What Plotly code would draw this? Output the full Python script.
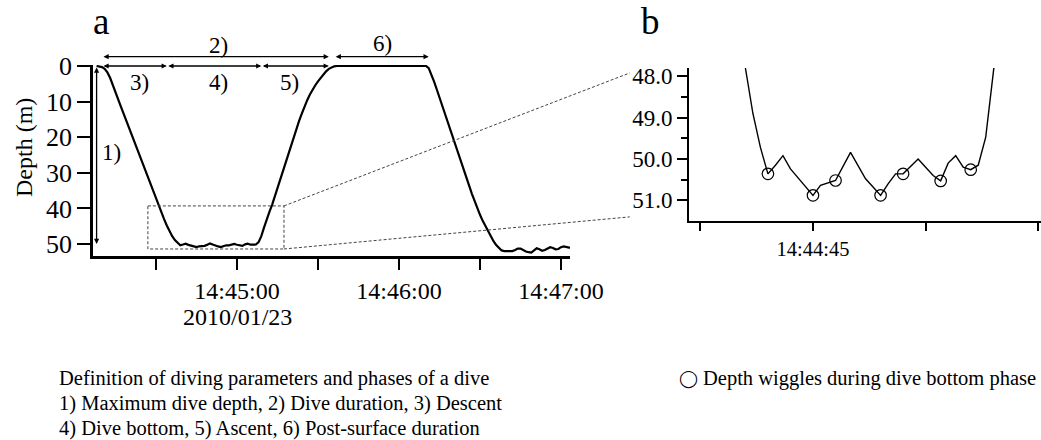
import pandas as pd
import plotly.graph_objects as go

# ---------------- data ----------------
BASE = "2010-01-23 14:45:00"

# dive profile: seconds relative to 14:45:00 and depth (m)
dive_sec = [-52, -51, -50, -49, -48, -47, -46, -45, -44, -43, -42, -41, -40, -39, -38,
            -37, -36, -35, -34, -33, -32, -31, -30, -29, -28, -27, -26, -25, -24, -23,
            -22, -21, -20, -19, -18, -17, -16, -15, -14, -13, -12, -11, -10, -9, -8,
            -7, -6, -5, -4, -3, -2, -1, 0, 1, 2, 3, 4, 5, 6, 7,
            8, 9, 10, 11, 12, 13, 14, 15, 16, 17, 18, 19, 20, 21, 22,
            23, 24, 25, 26, 27, 28, 29, 30, 31, 32, 33, 34, 35, 36, 37,
            40, 45, 50, 55, 60, 65, 70, 71, 72, 73, 74, 75, 76, 77, 78,
            79, 80, 81, 82, 83, 84, 85, 86, 87, 88, 89, 90, 91, 92, 93,
            94, 95, 96, 97, 98, 99, 100, 101, 102, 103, 104, 105, 106, 107, 108,
            109, 110, 111, 112, 113, 114, 115, 116, 117, 118, 119, 120, 121, 122, 123,
            124]
dive_depth = [0.0, 0.1, 0.3, 0.8, 1.8, 3.3, 5.2, 7.3, 9.4, 11.4, 13.4, 15.4, 17.4, 19.4, 21.4,
              23.4, 25.4, 27.4, 29.4, 31.4, 33.4, 35.4, 37.3, 39.2, 41.1, 43.0, 44.8, 46.4, 47.8, 48.9,
              49.72, 50.36, 50.15, 49.92, 50.24, 50.45, 50.67, 50.88, 50.64, 50.58, 50.52, 50.18, 49.84, 50.16, 50.48,
              50.68, 50.88, 50.6, 50.36, 50.36, 50.18, 50.0, 50.2, 50.4, 50.53, 50.1, 49.92, 50.2, 50.26, 50.15,
              49.47, 47.8, 45.4, 43.0, 41.0, 39.0, 36.6, 34.2, 31.8, 29.5, 27.0, 24.6, 22.1, 19.6, 17.5,
              15.4, 13.4, 11.4, 9.6, 8.0, 6.6, 5.4, 4.3, 3.3, 2.3, 1.5, 0.8, 0.4, 0.1, 0.0,
              0.0, 0.0, 0.0, 0.0, 0.0, 0.0, 0.0, 0.6, 2.3, 4.4, 6.6, 8.9, 11.3, 13.6, 15.9,
              18.1, 20.4, 22.6, 24.9, 27.1, 29.3, 31.5, 33.7, 35.9, 38.0, 40.0, 41.8, 43.5, 45.0, 46.5,
              47.9, 49.2, 50.3, 51.2, 51.8, 52.0, 52.0, 51.9, 52.0, 51.7, 51.3, 51.3, 51.8, 52.1, 52.3,
              52.4, 51.8, 51.2, 51.5, 51.9, 51.7, 51.2, 50.9, 51.1, 51.5, 51.4, 50.9, 50.7, 50.9, 51.0,
              51.0]

# depth wiggles (local minima during bottom phase)
wiggle_sec = [-21, -15, -12, -6, -3, 2, 6]
wiggle_depth = [50.36, 50.88, 50.52, 50.88, 50.36, 50.53, 50.26]

# panel a ticks
a_tick_sec = [-30, 0, 30, 60, 90, 120]
a_tick_text = ["", "14:45:00", "", "14:46:00", "", "14:47:00"]
a_date_label = "2010/01/23"
a_depth_ticks = [0, 10, 20, 30, 40, 50]

# panel b ticks
b_tick_sec = [-30, -15, 0, 15]
b_tick_text = ["", "14:44:45", "", ""]
b_depth_ticks = [48, 49, 50, 51]
b_depth_text = ["48.0", "49.0", "50.0", "51.0"]
b_minor_ticks = [48.5, 49.5, 50.5]

# dive phases (seconds relative to 14:45:00)
dive_start_sec = -50
descent_end_sec = -26
bottom_end_sec = 9
dive_end_sec = 34
post_start_sec = 36
post_end_sec = 71
max_depth_sec = -52
max_depth = 50

# zoom window shown in panel b
box_sec = [-33, 17.4]
box_depth = [39.3, 51.4]
zoom_target_sec = -39.4
zoom_target_depth = [47.92, 51.4]

caption_lines = ["Definition of diving parameters and phases of a dive",
                 "1) Maximum dive depth, 2) Dive duration, 3) Descent",
                 "4) Dive bottom, 5) Ascent, 6) Post-surface duration"]
caption_symbol = "◯"
caption_right = "Depth wiggles during dive bottom phase"

# ---------------- layout geometry ----------------
W, H = 1041, 440
FONT = "Liberation Serif"
base = pd.Timestamp(BASE)


def ts(s):
    return (base + pd.to_timedelta(s, unit="s")).strftime("%Y-%m-%d %H:%M:%S.%f")[:-3]


def px(p):
    return p / W


def py(p):
    return 1 - p / H


A_X = [px(93), px(570)]
A_RX = [-53.33, 123.33]
A_RY = [53.4, -0.3]
A_Y = [py(66 + 53.4 * 3.56), py(66 - 0.3 * 3.56)]

B_X = [px(689), 1.0]
B_RX = [-31.51, 15.36]
B_RY = [51.5, 47.8]
B_Y = [py(221), py(68)]


def xa(s):
    return A_X[0] + (s - A_RX[0]) / (A_RX[1] - A_RX[0]) * (A_X[1] - A_X[0])


def ya(d):
    return A_Y[0] + (d - A_RY[0]) / (A_RY[1] - A_RY[0]) * (A_Y[1] - A_Y[0])


def xb(s):
    return B_X[0] + (s - B_RX[0]) / (B_RX[1] - B_RX[0]) * (B_X[1] - B_X[0])


def yb(d):
    return B_Y[0] + (d - B_RY[0]) / (B_RY[1] - B_RY[0]) * (B_Y[1] - B_Y[0])


times = [ts(s) for s in dive_sec]
wig_times = [ts(s) for s in wiggle_sec]

fig = go.Figure()
fig.add_trace(go.Scatter(x=times, y=dive_depth, mode="lines",
                         line=dict(color="black", width=2.2),
                         xaxis="x", yaxis="y", showlegend=False))
fig.add_trace(go.Scatter(x=times, y=dive_depth, mode="lines",
                         line=dict(color="black", width=1.4),
                         xaxis="x2", yaxis="y2", showlegend=False))
fig.add_trace(go.Scatter(x=wig_times, y=wiggle_depth, mode="markers",
                         marker=dict(symbol="circle-open", size=11.5, color="black",
                                     line=dict(width=1.2)),
                         xaxis="x2", yaxis="y2", showlegend=False, cliponaxis=False))

axis_common = dict(showgrid=False, zeroline=False, showline=True, linecolor="black",
                   ticks="outside", tickcolor="black", automargin=False)

fig.update_layout(
    width=W, height=H, margin=dict(l=0, r=0, t=0, b=0),
    template="none", paper_bgcolor="white", plot_bgcolor="white",
    font=dict(family=FONT, color="black"),
    showlegend=False,
    xaxis=dict(axis_common, domain=A_X, type="date", range=[ts(A_RX[0]), ts(A_RX[1])],
               tickmode="array", tickvals=[ts(s) for s in a_tick_sec], ticktext=a_tick_text,
               ticklen=11, tickwidth=2, linewidth=2.5,
               tickfont=dict(family=FONT, size=24, color="black"), anchor="y"),
    yaxis=dict(axis_common, domain=A_Y, range=A_RY, tickmode="array",
               tickvals=a_depth_ticks, ticklen=13, tickwidth=2, linewidth=2.5,
               tickfont=dict(family=FONT, size=26, color="black"), anchor="x"),
    xaxis2=dict(axis_common, domain=B_X, type="date", range=[ts(B_RX[0]), ts(B_RX[1])],
                tickmode="array", tickvals=[ts(s) for s in b_tick_sec], ticktext=b_tick_text,
                ticklen=8, tickwidth=1.5, linewidth=2,
                tickfont=dict(family=FONT, size=20.5, color="black"), anchor="y2"),
    yaxis2=dict(axis_common, domain=B_Y, range=B_RY, tickmode="array",
                tickvals=b_depth_ticks, ticktext=b_depth_text,
                ticklen=10, tickwidth=1.5, linewidth=2,
                minor=dict(tickmode="array", tickvals=b_minor_ticks, ticks="outside",
                           ticklen=6, tickwidth=1.5, tickcolor="black"),
                tickfont=dict(family=FONT, size=23, color="black"), anchor="x2"),
)

ann = []
# horizontal arrows
arrow_style = dict(showarrow=True, arrowside="end+start", arrowhead=2, arrowsize=0.8,
                   arrowwidth=1.3, arrowcolor="black", text="", standoff=0, startstandoff=0)
top_y = py(56.7)
for s0, s1, yy in [(dive_start_sec, dive_end_sec, top_y),
                   (post_start_sec, post_end_sec, top_y),
                   (dive_start_sec, descent_end_sec, ya(0)),
                   (descent_end_sec, bottom_end_sec, ya(0)),
                   (bottom_end_sec, dive_end_sec, ya(0))]:
    ann.append(dict(arrow_style, x=ts(s1), y=yy, xref="x", yref="paper",
                    ax=ts(s0), axref="x", ay=0, ayref="pixel"))
# vertical arrow 1)
ann.append(dict(arrow_style, x=ts(max_depth_sec), y=max_depth, xref="x", yref="y",
                ax=0, axref="pixel", ay=0, ayref="y"))

lab_font = dict(family=FONT, size=23, color="black")
for txt, s, ypx in [("2)", -7, 45), ("6)", 54, 44), ("3)", -36, 83),
                    ("4)", -7, 83), ("5)", 19.6, 83), ("1)", -46.3, 152)]:
    ann.append(dict(text=txt, x=ts(s), y=py(ypx), xref="x", yref="paper",
                    showarrow=False, font=lab_font, xanchor="center", yanchor="middle"))

ann.append(dict(text=a_date_label, x=ts(0), y=py(316.7), xref="x", yref="paper",
                showarrow=False, font=dict(family=FONT, size=24, color="black"),
                xanchor="center", yanchor="middle"))
ann.append(dict(text="Depth (m)", x=px(24), y=py(148), xref="paper", yref="paper",
                showarrow=False, textangle=-90, font=dict(family=FONT, size=24, color="black"),
                xanchor="center", yanchor="middle"))
ann.append(dict(text="a", x=px(101), y=py(21), xref="paper", yref="paper", showarrow=False,
                font=dict(family=FONT, size=37, color="black"), xanchor="center", yanchor="middle"))
ann.append(dict(text="b", x=px(650), y=py(21), xref="paper", yref="paper", showarrow=False,
                font=dict(family=FONT, size=37, color="black"), xanchor="center", yanchor="middle"))
for i, line in enumerate(caption_lines):
    ann.append(dict(text=line, x=px(57), y=py(378 + 25 * i), xref="paper", yref="paper",
                    showarrow=False, align="left", xanchor="left", yanchor="middle",
                    font=dict(family=FONT, size=20.5, color="black")))
ann.append(dict(text=caption_right, x=px(1038), y=py(378), xref="paper", yref="paper",
                showarrow=False, align="right", xanchor="right", yanchor="middle",
                font=dict(family=FONT, size=20.5, color="black")))
ann.append(dict(text=caption_symbol, x=px(700), y=py(378), xref="paper", yref="paper",
                showarrow=False, xanchor="right", yanchor="middle",
                font=dict(family="DejaVu Sans", size=17, color="black")))
fig.update_layout(annotations=ann)

dash_line = dict(color="#444", width=1, dash="3px,2px")
shapes = [
    dict(type="rect", xref="x", yref="y", x0=ts(box_sec[0]), x1=ts(box_sec[1]),
         y0=box_depth[0], y1=box_depth[1], line=dash_line),
    dict(type="line", xref="paper", yref="paper", x0=xa(box_sec[1]), y0=ya(box_depth[0]),
         x1=xb(zoom_target_sec), y1=yb(zoom_target_depth[0]), line=dash_line),
    dict(type="line", xref="paper", yref="paper", x0=xa(box_sec[1]), y0=ya(box_depth[1]),
         x1=xb(zoom_target_sec), y1=yb(zoom_target_depth[1]), line=dash_line),
]
fig.update_layout(shapes=shapes)

# the page has a default 8px body margin; remove it so the figure fills the window
fig.write_html("out.html", config={"displayModeBar": False},
               post_script="document.body.style.margin='0';document.body.style.overflow='hidden';")
